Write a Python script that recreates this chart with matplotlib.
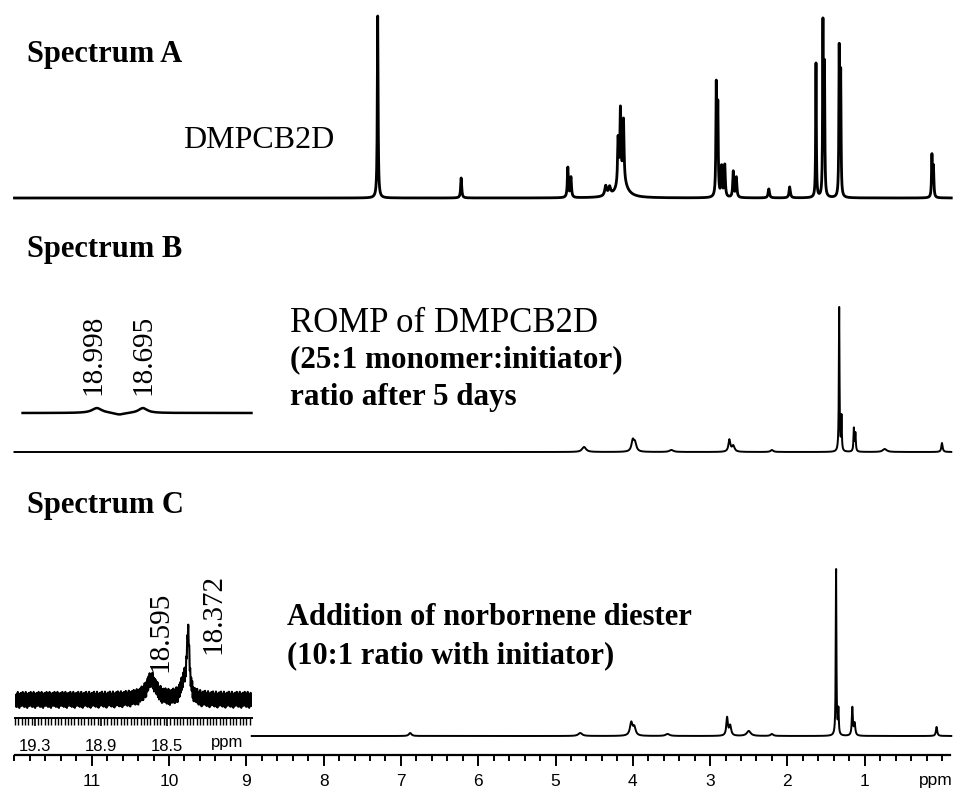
import numpy as np
import matplotlib.pyplot as plt
from matplotlib.ticker import FixedLocator, FixedFormatter, MultipleLocator, NullFormatter

W, H = 958, 792

# Spectrum A peaks: position (ppm), height above baseline, half width (ppm)
a_ppm = [7.30, 6.22, 4.84, 4.80, 4.35, 4.30, 4.19, 4.16, 4.12, 4.14, 2.92, 2.90,
         2.85, 2.81, 2.70, 2.66, 2.24, 1.97, 1.63, 1.54, 1.52, 1.33, 1.31, 0.13, 0.11]
a_height = [182, 20, 30, 20, 10, 8, 45, 70, 60, 18, 110, 88,
            30, 32, 26, 20, 9, 11, 135, 172, 128, 148, 122, 42, 30]
a_width = [0.006, 0.008, 0.008, 0.008, 0.015, 0.015, 0.008, 0.008, 0.008, 0.07, 0.006, 0.006,
           0.008, 0.008, 0.008, 0.008, 0.01, 0.01, 0.005, 0.005, 0.005, 0.005, 0.005, 0.006, 0.006]

# Spectrum B peaks
b_ppm = [4.63, 4.00, 3.97, 3.50, 2.75, 2.70, 2.20, 1.33, 1.30, 1.14, 1.12, 0.74, 0.00]
b_height = [5, 11, 8, 2, 12, 6, 2, 145, 34, 23, 18, 3, 9]
b_width = [0.03, 0.02, 0.02, 0.03, 0.015, 0.02, 0.02, 0.005, 0.005, 0.006, 0.006, 0.03, 0.01]

# Spectrum C peaks
c_ppm = [6.88, 4.68, 4.02, 3.98, 3.55, 2.78, 2.74, 2.50, 2.20, 1.37, 1.34, 1.16, 1.13, 0.07]
c_height = [3, 3, 13, 8, 2, 18, 10, 5, 2, 167, 25, 28, 12, 9]
c_width = [0.02, 0.03, 0.02, 0.02, 0.03, 0.012, 0.015, 0.03, 0.02, 0.005, 0.006, 0.008, 0.01, 0.01]

# Inset B (18-19.5 ppm region)
ib_ppm = [18.998, 18.85, 18.695]
ib_height = [5, -2, 5]
ib_width = [0.04, 0.04, 0.035]
ib_labels = ["18.998", "18.695"]

# Inset C
ic_ppm = [18.595, 18.40, 18.372]
ic_height = [20, 14, 64]
ic_width = [0.035, 0.02, 0.01]
ic_labels = ["18.595", "18.372"]
ic_noise = [6, -7, 5, -6, 8, -5, 7, -8, 4, -6, 7, -5, 6, -8, 5, -7]

main_ticks = [11, 10, 9, 8, 7, 6, 5, 4, 3, 2, 1]
inset_ticks = [19.3, 18.9, 18.5]


def spectrum(x, ppm, height, width):
    y = np.zeros_like(x)
    for p, h, w in zip(ppm, height, width):
        y += h / (1 + ((x - p) / w) ** 2)
    return y


def fig_px(x, y):
    return x / W, 1 - y / H


def px_axes(fig, x0, y0, x1, y1):
    return fig.add_axes([x0 / W, 1 - y1 / H, (x1 - x0) / W, (y1 - y0) / H])


serif = "Liberation Serif"
sans = "Liberation Sans"

fig = plt.figure(figsize=(W / 100, H / 100), dpi=100)
ax = fig.add_axes([0, 0, 1, 1])
ppm_per_px = 1 / 77.3
ax.set_xlim(942 * ppm_per_px, (942 - W) * ppm_per_px)
ax.set_ylim(H, 0)

x = np.arange(-0.12, 12.0, 0.0008)
ax.plot(x, 198 - spectrum(x, a_ppm, a_height, a_width), color="black", lw=2.0)
ax.plot(x, 452 - spectrum(x, b_ppm, b_height, b_width), color="black", lw=1.4)
xc = x[x < 8.93]
ax.plot(xc, 736 - spectrum(xc, c_ppm, c_height, c_width), color="black", lw=1.4)

# bottom ppm axis
for s in ["top", "left", "right"]:
    ax.spines[s].set_visible(False)
ax.spines["bottom"].set_position(("data", 755))
ax.spines["bottom"].set_bounds(11.99, -0.1)
ax.spines["bottom"].set_linewidth(1.6)
ax.xaxis.set_major_locator(FixedLocator(main_ticks))
ax.xaxis.set_major_formatter(FixedFormatter([str(t) for t in main_ticks]))
ax.xaxis.set_minor_locator(FixedLocator(np.arange(0, 12.01, 0.2)))
ax.xaxis.set_minor_formatter(NullFormatter())
ax.tick_params(axis="x", which="major", direction="out", length=8, width=1.4,
               pad=6, labelsize=12.5, labelfontfamily=sans)
ax.tick_params(axis="x", which="minor", direction="out", length=4, width=1.4)
ax.set_yticks([])
fig.text(*fig_px(936, 780), "ppm", ha="center", va="center", fontsize=12.5, family=sans)

# inset B
axb = px_axes(fig, 15, 370, 258, 425)
axb.set_xlim(19.538, 17.937)
axb.set_ylim(425, 370)
xb = np.arange(17.98, 19.49, 0.002)
axb.plot(xb, 413 - spectrum(xb, ib_ppm, ib_height, ib_width), color="black", lw=1.8)
axb.axis("off")
fig.text(*fig_px(93, 395), ib_labels[0], rotation=90, ha="center", va="bottom",
         fontsize=21, family=serif)
fig.text(*fig_px(143, 395), ib_labels[1], rotation=90, ha="center", va="bottom",
         fontsize=21, family=serif)

# inset C
axc = px_axes(fig, 15, 560, 252, 718)
axc.set_xlim(19.42, 17.985)
axc.set_ylim(718, 560)
xi = np.arange(17.99, 19.415, 0.003)
noise = np.resize(ic_noise, xi.size)
yi = 700 - spectrum(xi, ic_ppm, ic_height, ic_width) + noise
axc.plot(xi, yi, color="black", lw=1.5)
for s in ["top", "left", "right"]:
    axc.spines[s].set_visible(False)
axc.spines["bottom"].set_linewidth(1.4)
axc.set_yticks([])
axc.xaxis.set_major_locator(FixedLocator(inset_ticks))
axc.xaxis.set_major_formatter(FixedFormatter([str(t) for t in inset_ticks]))
axc.xaxis.set_minor_locator(MultipleLocator(0.02))
axc.tick_params(axis="x", which="major", direction="out", length=6, width=1.2,
                pad=9, labelsize=12, labelfontfamily=sans)
axc.tick_params(axis="x", which="minor", direction="out", length=5, width=1.0)
fig.text(*fig_px(227, 743), "ppm", ha="center", va="center", fontsize=12, family=sans)
fig.text(*fig_px(160, 672), ic_labels[0], rotation=90, ha="center", va="bottom",
         fontsize=21, family=serif)
fig.text(*fig_px(213, 654), ic_labels[1], rotation=90, ha="center", va="bottom",
         fontsize=21, family=serif)

# titles and captions
fig.text(*fig_px(27, 62), "Spectrum A", fontsize=22, fontweight="bold", family=serif)
fig.text(*fig_px(183, 148), "DMPCB2D", fontsize=23, family=serif)
fig.text(*fig_px(27, 257), "Spectrum B", fontsize=22, fontweight="bold", family=serif)
fig.text(*fig_px(290, 332), "ROMP of DMPCB2D", fontsize=25, family=serif)
fig.text(*fig_px(290, 367), "(25:1 monomer:initiator)", fontsize=22.4, fontweight="bold", family=serif)
fig.text(*fig_px(290, 405), "ratio after 5 days", fontsize=22.4, fontweight="bold", family=serif)
fig.text(*fig_px(27, 513), "Spectrum C", fontsize=22, fontweight="bold", family=serif)
fig.text(*fig_px(287, 625), "Addition of norbornene diester", fontsize=22, fontweight="bold", family=serif)
fig.text(*fig_px(287, 663), "(10:1 ratio with initiator)", fontsize=22, fontweight="bold", family=serif)

fig.savefig("out.png", dpi=100)
plt.close(fig)
